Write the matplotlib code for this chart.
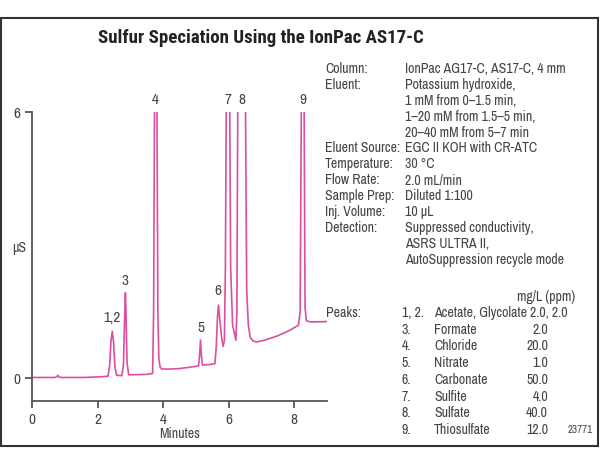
import matplotlib
matplotlib.use('Agg')
import matplotlib.pyplot as plt
from matplotlib import font_manager
from matplotlib.patches import Rectangle

# condensed face if there is one, otherwise a plain sans at a smaller size
installed = set(f.name for f in font_manager.fontManager.ttflist)
if 'Archivo Narrow' in installed:
    plt.rcParams['font.family'] = ['Archivo Narrow', 'DejaVu Sans']
    fs = 10
else:
    plt.rcParams['font.family'] = ['Liberation Sans', 'DejaVu Sans']
    fs = 8
title_fonts = [f for f in ['Roboto Condensed', 'Barlow Condensed', 'Saira Condensed']
               if f in installed]
title_family = title_fonts[:1] + ['Liberation Sans', 'DejaVu Sans']
title_fs = 13.6 if title_fonts else 12

# chromatogram trace (minutes, uS)
minutes = [0.00, 0.70, 0.76, 0.79, 0.82, 0.90, 1.60, 2.20, 2.32, 2.37, 2.41, 2.45, 2.49,
           2.53, 2.58, 2.74, 2.79, 2.83, 2.85, 2.87, 2.90, 2.95, 3.50, 3.68, 3.71, 3.74,
           3.77, 3.81, 3.84, 3.87, 3.91, 3.96, 4.20, 4.50, 5.00, 5.08, 5.11, 5.14, 5.17,
           5.20, 5.40, 5.58, 5.62, 5.66, 5.69, 5.72, 5.78, 5.83, 5.87, 5.90, 5.93, 5.98,
           6.03, 6.06, 6.12, 6.22, 6.25, 6.28, 6.40, 6.51, 6.55, 6.60, 6.66, 6.75, 6.85,
           7.10, 7.50, 7.80, 8.00, 8.13, 8.18, 8.22, 8.26, 8.30, 8.33, 8.37, 8.50, 9.05]
signal = [0.02, 0.02, 0.04, 0.07, 0.03, 0.02, 0.02, 0.04, 0.05, 0.30, 0.85, 1.06, 0.80,
          0.25, 0.07, 0.06, 0.30, 1.50, 1.93, 1.40, 0.35, 0.08, 0.09, 0.11, 1.50, 6.50,
          8.00, 6.50, 1.50, 0.45, 0.25, 0.21, 0.21, 0.22, 0.27, 0.28, 0.50, 0.86, 0.50,
          0.30, 0.31, 0.33, 0.70, 1.40, 1.65, 1.40, 0.95, 0.72, 0.85, 2.50, 6.50, 9.00,
          6.50, 2.50, 1.20, 0.86, 1.50, 6.50, 12.0, 6.50, 2.00, 1.20, 0.92, 0.84, 0.82,
          0.86, 0.96, 1.06, 1.14, 1.20, 1.50, 6.50, 9.00, 6.50, 1.60, 1.30, 1.27, 1.28]

peak_labels = ['1,2', '3', '4', '5', '6', '7', '8', '9']
label_t = [2.43, 2.84, 3.76, 5.14, 5.68, 5.98, 6.40, 8.26]
label_y = [1.35, 2.19, 6.28, 1.13, 1.97, 6.28, 6.28, 6.28]

cond_keys = ['Column:', 'Eluent:', '', '', '', 'Eluent Source:', 'Temperature:',
             'Flow Rate:', 'Sample Prep:', 'Inj. Volume:', 'Detection:', '', '']
cond_vals = ['IonPac AG17-C, AS17-C, 4 mm', 'Potassium hydroxide,',
             '1 mM from 0\u20131.5 min,', '1\u201320 mM from 1.5\u20135 min,',
             '20\u201340 mM from 5\u20137 min', 'EGC II KOH with CR-ATC', '30 \u00b0C',
             '2.0 mL/min', 'Diluted 1:100', '10 \u00b5L', 'Suppressed conductivity,',
             'ASRS ULTRA II,', 'AutoSuppression recycle mode']

peak_nums = ['1, 2.', '3.', '4.', '5.', '6.', '7.', '8.', '9.']
peak_names = ['Acetate, Glycolate', 'Formate', 'Chloride', 'Nitrate', 'Carbonate',
              'Sulfite', 'Sulfate', 'Thiosulfate']
peak_conc = ['2.0', '2.0', '20.0', '1.0', '50.0', '4.0', '40.0', '12.0']

W, H = 600, 465
fig = plt.figure(figsize=(6, 4.65), dpi=100)
pink = '#dd4f9e'
grey = '#444444'

def fx(px):
    return px / W

def fy(py):
    return 1 - py / H

ax = fig.add_axes([fx(32), fy(401), fx(327) - fx(32), fy(112) - fy(401)])
ax.plot(minutes, signal, color=pink, lw=1.2)
ax.set_xlim(0, 9.0)
ax.set_ylim(-0.51, 6)
for s in ['top', 'right']:
    ax.spines[s].set_visible(False)
for s in ['left', 'bottom']:
    ax.spines[s].set_color('#555555')
    ax.spines[s].set_linewidth(1.3)
ax.set_xticks([0, 2, 4, 6, 8])
ax.set_yticks([0, 6])
ax.tick_params(colors='#555555', labelcolor=grey, labelsize=fs + 1, length=5, width=1.3)
ax.set_xlabel('Minutes', fontsize=fs, color=grey, labelpad=0)
ax.text(-0.38, 2.93, '\u00b5S', fontsize=fs, color=grey, ha='center', va='center',
        clip_on=False)

for lab, t, y in zip(peak_labels, label_t, label_y):
    ax.text(t, y, lab, fontsize=fs + 1, color=grey, ha='center', va='center', clip_on=False)

fig.text(fx(261), fy(38), 'Sulfur Speciation Using the IonPac AS17-C', fontsize=title_fs,
         fontweight='bold', family=title_family, color='#222222', ha='center', va='center')

for i, (k, v) in enumerate(zip(cond_keys, cond_vals)):
    y = 69 + i * 15.9
    fig.text(fx(325), fy(y), k, fontsize=fs, color=grey, va='center')
    fig.text(fx(405), fy(y), v, fontsize=fs, color=grey, va='center')

fig.text(fx(575), fy(297), 'mg/L (ppm)', fontsize=fs, color=grey, ha='right', va='center')
fig.text(fx(326), fy(313), 'Peaks:', fontsize=fs, color=grey, va='center')
for i, (n, name, c) in enumerate(zip(peak_nums, peak_names, peak_conc)):
    y = 313 + i * 16.7
    fig.text(fx(402), fy(y), n, fontsize=fs, color=grey, va='center')
    fig.text(fx(434), fy(y), name, fontsize=fs, color=grey, va='center')
    if i == 0:
        fig.text(fx(530), fy(y), c + ', 2.0', fontsize=fs, color=grey, va='center')
    else:
        fig.text(fx(548), fy(y), c, fontsize=fs, color=grey, ha='right', va='center')
fig.text(fx(593), fy(430), '23771', fontsize=fs - 2, color=grey, ha='right', va='center')

fig.patches.append(Rectangle((fx(1), fy(446)), fx(597), fy(18) - fy(446), transform=fig.transFigure,
                             fill=False, edgecolor='#333333', lw=1.5))

fig.savefig('out.png', dpi=100, facecolor='white')
